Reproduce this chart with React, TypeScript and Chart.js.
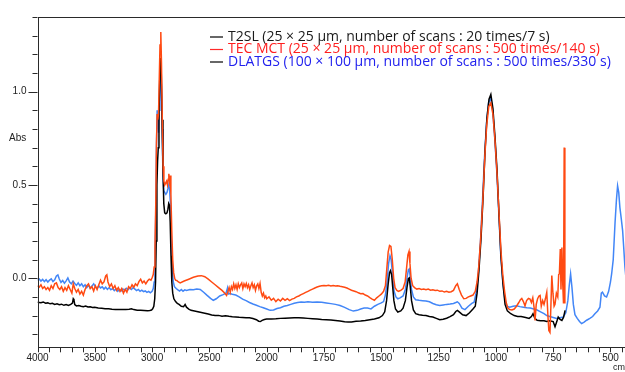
import React, { useEffect, useRef } from "react";
import { Chart, registerables } from "chart.js";
Chart.register(...registerables);

// [wavenumber (cm-1), absorbance]
const t2slPoints: number[][] = [
  [4000,-0.128],[3970,-0.131],[3950,-0.127],[3930,-0.134],[3910,-0.132],[3890,-0.137],[3870,-0.134],[3850,-0.140],[3830,-0.137],[3810,-0.142],[3790,-0.139],[3770,-0.145],[3750,-0.141],[3730,-0.146],[3710,-0.140],[3695,-0.133],[3688,-0.110],[3682,-0.116],[3675,-0.141],[3660,-0.148],[3640,-0.146],[3620,-0.150],[3600,-0.152],[3580,-0.149],[3560,-0.154],[3540,-0.153],[3520,-0.157],[3500,-0.156],[3470,-0.159],[3440,-0.161],[3410,-0.163],[3380,-0.164],[3350,-0.166],[3320,-0.167],[3290,-0.168],[3260,-0.168],[3230,-0.167],[3200,-0.166],[3180,-0.164],[3160,-0.168],[3130,-0.171],[3100,-0.172],[3070,-0.173],[3040,-0.174],[3020,-0.173],[3005,-0.170],[2995,-0.164],[2985,-0.150],[2977,-0.110],[2970,-0.020],[2964,0.200],[2958,0.500],[2952,0.630],[2946,0.700],[2940,0.860],[2933,1.080],[2926,1.180],[2920,1.100],[2913,0.850],[2905,0.580],[2898,0.400],[2890,0.350],[2880,0.345],[2870,0.350],[2862,0.370],[2855,0.400],[2848,0.390],[2842,0.300],[2835,0.120],[2828,-0.020],[2820,-0.080],[2810,-0.110],[2795,-0.125],[2780,-0.135],[2765,-0.140],[2745,-0.150],[2725,-0.152],[2712,-0.140],[2700,-0.155],[2680,-0.165],[2660,-0.172],[2630,-0.176],[2600,-0.180],[2570,-0.184],[2540,-0.188],[2510,-0.192],[2480,-0.197],[2450,-0.200],[2420,-0.199],[2390,-0.203],[2360,-0.201],[2330,-0.204],[2300,-0.206],[2270,-0.207],[2240,-0.209],[2210,-0.210],[2180,-0.211],[2150,-0.212],[2120,-0.216],[2090,-0.222],[2070,-0.230],[2055,-0.232],[2040,-0.226],[2020,-0.221],[2000,-0.219],[1980,-0.218],[1960,-0.217],[1940,-0.215],[1920,-0.214],[1900,-0.213],[1880,-0.212],[1860,-0.212],[1840,-0.213],[1820,-0.215],[1800,-0.217],[1780,-0.219],[1760,-0.221],[1740,-0.222],[1720,-0.224],[1700,-0.226],[1680,-0.229],[1660,-0.233],[1645,-0.235],[1630,-0.234],[1610,-0.231],[1590,-0.229],[1570,-0.226],[1550,-0.222],[1530,-0.218],[1510,-0.212],[1495,-0.200],[1485,-0.180],[1477,-0.120],[1470,-0.030],[1464,0.030],[1460,0.041],[1455,0.020],[1450,-0.050],[1445,-0.120],[1438,-0.165],[1428,-0.181],[1415,-0.175],[1405,-0.160],[1395,-0.120],[1388,-0.050],[1382,-0.002],[1378,0.002],[1374,-0.040],[1368,-0.120],[1360,-0.170],[1350,-0.190],[1335,-0.195],[1320,-0.198],[1305,-0.200],[1290,-0.205],[1275,-0.208],[1260,-0.215],[1245,-0.222],[1230,-0.220],[1215,-0.214],[1200,-0.206],[1185,-0.195],[1175,-0.178],[1168,-0.172],[1160,-0.180],[1145,-0.196],[1130,-0.200],[1115,-0.185],[1100,-0.165],[1090,-0.150],[1082,-0.080],[1074,0.040],[1065,0.210],[1056,0.430],[1047,0.690],[1039,0.860],[1030,0.960],[1022,0.985],[1013,0.910],[1004,0.760],[995,0.580],[986,0.330],[978,0.120],[969,-0.030],[960,-0.140],[950,-0.175],[935,-0.190],[920,-0.200],[905,-0.205],[890,-0.205],[870,-0.210],[855,-0.215],[845,-0.205],[838,-0.190],[830,-0.215],[820,-0.225],[805,-0.228],[790,-0.228],[778,-0.232],[765,-0.228],[750,-0.232],[742,-0.260],[735,-0.235],[728,-0.208],[720,-0.220],[712,-0.226],[705,-0.210],[698,-0.172]
];

const tecMctPoints: number[][] = [
  [4000,-0.040],[3985,-0.048],[3970,-0.035],[3955,-0.055],[3940,-0.045],[3925,-0.060],[3910,-0.050],[3895,-0.065],[3880,-0.040],[3865,-0.055],[3850,-0.030],[3835,-0.025],[3820,-0.050],[3805,-0.060],[3790,-0.045],[3775,-0.070],[3760,-0.050],[3745,-0.065],[3730,-0.040],[3715,-0.060],[3700,-0.080],[3688,-0.030],[3675,-0.055],[3660,-0.075],[3645,-0.060],[3630,-0.085],[3615,-0.070],[3600,-0.090],[3585,-0.060],[3570,-0.040],[3555,-0.030],[3540,-0.055],[3525,-0.045],[3510,-0.068],[3495,-0.040],[3480,-0.060],[3465,-0.035],[3450,-0.010],[3435,-0.030],[3420,-0.020],[3405,0.012],[3395,0.018],[3385,-0.020],[3370,-0.045],[3355,-0.030],[3340,-0.055],[3325,-0.040],[3310,-0.065],[3295,-0.050],[3280,-0.070],[3265,-0.055],[3250,-0.080],[3235,-0.060],[3220,-0.075],[3205,-0.045],[3190,-0.055],[3175,-0.035],[3160,-0.048],[3145,-0.030],[3130,-0.040],[3115,-0.018],[3100,-0.005],[3085,-0.025],[3070,-0.015],[3055,-0.030],[3040,-0.015],[3025,-0.005],[3010,-0.010],[2998,0.005],[2990,0.020],[2982,0.060],[2975,0.160],[2968,0.400],[2962,0.720],[2956,0.880],[2950,0.850],[2944,0.880],[2938,1.050],[2931,1.250],[2924,1.320],[2918,1.150],[2911,0.850],[2904,0.600],[2897,0.520],[2890,0.500],[2882,0.510],[2874,0.520],[2866,0.500],[2860,0.530],[2854,0.560],[2848,0.520],[2842,0.550],[2836,0.450],[2828,0.250],[2820,0.100],[2812,0.030],[2803,0.000],[2795,-0.010],[2785,-0.012],[2770,-0.020],[2755,-0.025],[2720,-0.015],[2680,-0.005],[2640,0.005],[2600,0.012],[2570,0.014],[2540,0.008],[2510,-0.005],[2480,-0.020],[2450,-0.035],[2420,-0.050],[2390,-0.065],[2365,-0.080],[2350,-0.092],[2338,-0.070],[2328,-0.050],[2318,-0.075],[2308,-0.045],[2298,-0.060],[2288,-0.030],[2278,-0.055],[2268,-0.035],[2258,-0.060],[2248,-0.030],[2238,-0.050],[2228,-0.035],[2218,-0.025],[2208,-0.055],[2198,-0.030],[2188,-0.045],[2178,-0.028],[2168,-0.050],[2158,-0.035],[2148,-0.060],[2138,-0.040],[2128,-0.025],[2118,-0.050],[2108,-0.035],[2098,-0.065],[2088,-0.040],[2078,-0.030],[2068,-0.055],[2058,-0.028],[2048,-0.075],[2038,-0.095],[2028,-0.080],[2018,-0.105],[2008,-0.095],[2000,-0.110],[1990,-0.100],[1980,-0.118],[1970,-0.108],[1960,-0.125],[1950,-0.112],[1940,-0.122],[1930,-0.108],[1920,-0.118],[1910,-0.110],[1900,-0.120],[1890,-0.112],[1880,-0.108],[1870,-0.100],[1860,-0.095],[1850,-0.088],[1840,-0.082],[1830,-0.076],[1820,-0.070],[1810,-0.064],[1800,-0.058],[1790,-0.052],[1780,-0.047],[1770,-0.043],[1760,-0.040],[1750,-0.039],[1740,-0.040],[1730,-0.038],[1720,-0.041],[1710,-0.039],[1700,-0.042],[1690,-0.040],[1680,-0.043],[1670,-0.045],[1660,-0.048],[1650,-0.052],[1640,-0.058],[1630,-0.064],[1620,-0.068],[1610,-0.072],[1600,-0.078],[1590,-0.083],[1580,-0.082],[1570,-0.090],[1560,-0.095],[1550,-0.104],[1540,-0.112],[1530,-0.118],[1520,-0.105],[1510,-0.095],[1500,-0.085],[1490,-0.070],[1482,-0.040],[1476,0.050],[1470,0.140],[1464,0.175],[1458,0.170],[1452,0.100],[1446,0.000],[1440,-0.050],[1432,-0.065],[1425,-0.070],[1415,-0.065],[1405,-0.055],[1396,-0.020],[1390,0.050],[1384,0.125],[1379,0.144],[1375,0.080],[1370,0.000],[1363,-0.040],[1355,-0.050],[1345,-0.058],[1335,-0.055],[1325,-0.060],[1315,-0.058],[1305,-0.062],[1295,-0.058],[1285,-0.064],[1275,-0.062],[1265,-0.066],[1255,-0.064],[1245,-0.070],[1235,-0.068],[1225,-0.074],[1215,-0.070],[1205,-0.075],[1195,-0.072],[1185,-0.065],[1175,-0.040],[1168,-0.030],[1160,-0.060],[1150,-0.090],[1140,-0.110],[1130,-0.108],[1120,-0.100],[1110,-0.095],[1100,-0.090],[1090,-0.070],[1082,-0.020],[1075,0.060],[1066,0.220],[1057,0.420],[1048,0.660],[1040,0.820],[1031,0.920],[1022,0.940],[1013,0.880],[1004,0.740],[995,0.560],[986,0.340],[978,0.150],[970,0.020],[962,-0.070],[955,-0.130],[948,-0.160],[940,-0.168],[930,-0.170],[920,-0.165],[910,-0.150],[900,-0.130],[893,-0.115],[887,-0.108],[880,-0.125],[873,-0.148],[866,-0.120],[858,-0.108],[851,-0.112],[845,-0.130],[839,-0.105],[833,-0.160],[829,-0.226],[824,-0.140],[818,-0.110],[812,-0.095],[807,-0.092],[802,-0.150],[796,-0.120],[790,-0.140],[784,-0.110],[778,-0.075],[773,-0.200],[769,-0.280],[764,-0.290],[760,-0.150],[756,0.014],[751,-0.080],[746,-0.150],[742,-0.140],[736,-0.080],[730,-0.100],[726,0.020],[723,0.023],[719,0.157],[716,-0.060],[712,0.165],[708,-0.040],[705,-0.135],[702,0.700],[699,-0.135]
];

const dlatgsPoints: number[][] = [
  [4000,-0.010],[3985,-0.004],[3970,-0.015],[3955,-0.006],[3940,-0.018],[3925,-0.008],[3910,-0.020],[3895,-0.010],[3880,-0.003],[3865,-0.018],[3850,-0.008],[3835,0.012],[3822,0.018],[3810,-0.004],[3795,-0.022],[3780,-0.012],[3765,-0.026],[3750,-0.014],[3735,0.002],[3720,-0.020],[3705,-0.030],[3690,-0.015],[3675,-0.028],[3660,-0.038],[3645,-0.025],[3630,-0.040],[3615,-0.030],[3600,-0.045],[3585,-0.035],[3570,-0.050],[3555,-0.038],[3540,-0.052],[3525,-0.042],[3510,-0.030],[3495,-0.045],[3480,-0.055],[3465,-0.040],[3450,-0.052],[3435,-0.046],[3420,-0.058],[3405,-0.048],[3390,-0.060],[3375,-0.050],[3360,-0.062],[3345,-0.055],[3330,-0.066],[3315,-0.057],[3300,-0.070],[3285,-0.060],[3270,-0.068],[3255,-0.058],[3240,-0.064],[3225,-0.054],[3210,-0.062],[3195,-0.052],[3180,-0.060],[3165,-0.050],[3150,-0.058],[3135,-0.066],[3120,-0.060],[3105,-0.070],[3090,-0.064],[3075,-0.072],[3060,-0.068],[3045,-0.076],[3030,-0.070],[3015,-0.078],[3000,-0.070],[2990,-0.055],[2982,-0.020],[2975,0.080],[2968,0.350],[2962,0.700],[2956,0.900],[2950,0.860],[2944,0.780],[2938,0.900],[2932,1.050],[2926,1.150],[2920,1.050],[2913,0.800],[2905,0.550],[2898,0.470],[2890,0.460],[2880,0.450],[2870,0.460],[2862,0.480],[2855,0.500],[2848,0.480],[2840,0.400],[2832,0.200],[2825,0.050],[2815,-0.020],[2805,-0.045],[2790,-0.055],[2775,-0.062],[2760,-0.068],[2745,-0.060],[2730,-0.070],[2715,-0.062],[2700,-0.065],[2670,-0.060],[2640,-0.062],[2610,-0.058],[2580,-0.060],[2550,-0.075],[2520,-0.092],[2490,-0.108],[2466,-0.118],[2440,-0.110],[2410,-0.095],[2380,-0.088],[2355,-0.080],[2342,-0.052],[2335,-0.085],[2320,-0.082],[2300,-0.086],[2270,-0.090],[2240,-0.100],[2210,-0.112],[2180,-0.120],[2150,-0.130],[2120,-0.138],[2090,-0.145],[2060,-0.152],[2030,-0.158],[2000,-0.165],[1985,-0.172],[1970,-0.170],[1955,-0.162],[1940,-0.158],[1925,-0.150],[1910,-0.146],[1895,-0.140],[1880,-0.134],[1865,-0.130],[1850,-0.127],[1835,-0.128],[1820,-0.126],[1800,-0.128],[1780,-0.127],[1760,-0.129],[1740,-0.132],[1720,-0.136],[1700,-0.140],[1680,-0.146],[1660,-0.156],[1640,-0.168],[1622,-0.176],[1605,-0.172],[1590,-0.165],[1575,-0.160],[1560,-0.160],[1545,-0.164],[1530,-0.150],[1515,-0.140],[1500,-0.132],[1490,-0.125],[1482,-0.090],[1475,-0.020],[1468,0.080],[1462,0.121],[1457,0.100],[1450,0.010],[1444,-0.070],[1436,-0.100],[1428,-0.110],[1418,-0.105],[1405,-0.095],[1395,-0.060],[1388,0.000],[1382,0.045],[1378,0.050],[1374,0.010],[1368,-0.060],[1360,-0.100],[1350,-0.115],[1335,-0.118],[1320,-0.120],[1305,-0.122],[1290,-0.126],[1275,-0.135],[1260,-0.142],[1245,-0.146],[1230,-0.143],[1215,-0.140],[1200,-0.138],[1185,-0.135],[1175,-0.130],[1168,-0.126],[1160,-0.135],[1148,-0.160],[1135,-0.168],[1120,-0.150],[1105,-0.135],[1095,-0.128],[1085,-0.070],[1077,0.020],[1068,0.180],[1059,0.400],[1050,0.640],[1041,0.830],[1032,0.940],[1023,0.965],[1014,0.900],[1005,0.750],[996,0.570],[987,0.340],[979,0.130],[970,-0.020],[961,-0.110],[952,-0.150],[940,-0.155],[925,-0.150],[910,-0.147],[895,-0.152],[880,-0.155],[865,-0.158],[850,-0.160],[835,-0.165],[820,-0.170],[805,-0.180],[790,-0.190],[778,-0.200],[765,-0.205],[750,-0.210],[735,-0.216],[720,-0.212],[706,-0.208],[695,-0.185],[686,-0.120],[680,-0.040],[674,0.023],[668,-0.050],[662,-0.140],[655,-0.195],[645,-0.215],[635,-0.232],[626,-0.243],[615,-0.235],[604,-0.225],[590,-0.215],[578,-0.205],[568,-0.190],[556,-0.175],[546,-0.155],[540,-0.080],[535,-0.075],[526,-0.095],[517,-0.100],[508,-0.070],[500,-0.020],[495,0.023],[488,0.100],[480,0.300],[474,0.420],[469,0.495],[464,0.460],[459,0.380],[453,0.320],[447,0.255],[442,0.160],[437,0.060],[430,-0.030],[420,-0.080]
];

const seriesNames = [
  "T2SL (25 × 25 µm, number of scans : 20 times/7 s)",
  "TEC MCT (25 × 25 µm, number of scans : 500 times/140 s)",
  "DLATGS (100 × 100 µm, number of scans : 500 times/330 s)",
];
const seriesLineColors = ["#000000", "#ff4a12", "#4286f7"];
const legendTextColors = ["#1a1a1a", "#ff1e1e", "#2222ee"];
const legendDashColors = ["#000000", "#ff2a2a", "#000000"];

const xLabelWavenumbers = [4000, 3500, 3000, 2500, 2000, 1750, 1500, 1250, 1000, 750, 500];
const yTickValues = [-0.3, -0.2, -0.1, 0.0, 0.1, 0.2, 0.3, 0.4, 0.5, 0.6, 0.7, 0.8, 0.9, 1.0, 1.1, 1.2, 1.3, 1.4];
const yLabelValues = [0.0, 0.5, 1.0];

// axis with 2x expansion below 2000 cm-1
function toAxis(wn: number) {
  return wn >= 2000 ? (4000 - wn) / 2 : 1000 + (2000 - wn);
}
function fromAxis(t: number) {
  return t <= 1000 ? 4000 - 2 * t : 2000 - (t - 1000);
}
const X_MIN = toAxis(4000);
const X_MAX = toAxis(400);
const xTickAxisValues: number[] = [];
for (let t = X_MIN; t <= X_MAX; t += 50) xTickAxisValues.push(t);

const isYLabel = (v: number) => yLabelValues.some((l) => Math.abs(l - v) < 1e-6);

const framePlugin = {
  id: "frame",
  afterDraw(chart: any) {
    const { ctx, chartArea: a, scales } = chart;
    const xs = scales.x;
    const ys = scales.y;
    ctx.save();
    ctx.strokeStyle = "#2a2a2a";
    ctx.lineWidth = 1;
    ctx.strokeRect(Math.round(a.left) + 0.5, Math.round(a.top) + 0.5, a.right - a.left, Math.round(a.bottom - a.top));
    ctx.beginPath();
    yTickValues.forEach((v) => {
      const y = Math.round(ys.getPixelForValue(v)) + 0.5;
      const len = isYLabel(v) ? 9 : 5;
      ctx.moveTo(a.left - len, y);
      ctx.lineTo(a.left, y);
    });
    xTickAxisValues.forEach((t) => {
      const x = Math.round(xs.getPixelForValue(t)) + 0.5;
      ctx.moveTo(x, a.bottom);
      ctx.lineTo(x, a.bottom + 5);
    });
    ctx.stroke();

    ctx.fillStyle = "#222";
    ctx.font = '10px "Liberation Sans", Arial, sans-serif';
    ctx.textBaseline = "middle";
    ctx.textAlign = "left";
    ctx.fillText("Abs", 9, 138);
    ctx.font = '9px "Liberation Sans", Arial, sans-serif';
    ctx.fillText("cm⁻¹", 613, 368);

    // legend
    ctx.font = '14px "Open Sans", "Noto Sans", sans-serif';
    const rows = [37, 49.5, 62];
    seriesNames.forEach((name, i) => {
      const y = rows[i];
      ctx.strokeStyle = legendDashColors[i];
      ctx.lineWidth = 1.2;
      ctx.beginPath();
      ctx.moveTo(210, y);
      ctx.lineTo(223, y);
      ctx.stroke();
      ctx.fillStyle = legendTextColors[i];
      ctx.fillText(name, 228, y);
    });
    ctx.restore();
  },
};

export default function App() {
  const canvasRef = useRef<HTMLCanvasElement | null>(null);

  useEffect(() => {
    if (!canvasRef.current) return;
    const pointSets = [t2slPoints, tecMctPoints, dlatgsPoints];
    const orders = [1, 0, 2];
    const chart = new Chart(canvasRef.current, {
      type: "line",
      data: {
        datasets: pointSets.map((pts, i) => ({
          label: seriesNames[i],
          data: pts.map(([wn, a]) => ({ x: toAxis(wn), y: a })),
          borderColor: seriesLineColors[i],
          borderWidth: 1.5,
          pointRadius: 0,
          tension: 0,
          fill: false,
          order: orders[i],
        })),
      },
      options: {
        responsive: false,
        animation: false,
        devicePixelRatio: 1,
        layout: { padding: { top: 15, right: 6.6, left: 0, bottom: 0 } },
        plugins: { legend: { display: false }, tooltip: { enabled: false } },
        events: [],
        scales: {
          x: {
            type: "linear",
            min: X_MIN,
            max: X_MAX,
            afterBuildTicks: (scale: any) => {
              scale.ticks = xTickAxisValues.map((v) => ({ value: v }));
            },
            afterFit: (scale: any) => {
              scale.height = 24.7;
            },
            grid: { display: false, drawTicks: false },
            border: { display: false },
            ticks: {
              autoSkip: false,
              maxRotation: 0,
              padding: 5,
              color: "#222",
              font: { family: '"Liberation Sans", Arial, sans-serif', size: 10 },
              callback: (value: any) => {
                const wn = Math.round(fromAxis(Number(value)));
                return xLabelWavenumbers.includes(wn) ? String(wn) : "";
              },
            },
          },
          y: {
            type: "linear",
            min: -0.37,
            max: 1.4,
            afterBuildTicks: (scale: any) => {
              scale.ticks = yTickValues.map((v) => ({ value: v }));
            },
            afterFit: (scale: any) => {
              scale.width = 37.5;
            },
            grid: { display: false, drawTicks: false },
            border: { display: false },
            ticks: {
              autoSkip: false,
              padding: 11,
              color: "#222",
              font: { family: '"Liberation Sans", Arial, sans-serif', size: 10 },
              callback: (value: any) => (isYLabel(Number(value)) ? Number(value).toFixed(1) : ""),
            },
          },
        },
      },
      plugins: [framePlugin],
    });
    return () => chart.destroy();
  }, []);

  return (
    <div
      style={{
        position: "fixed",
        left: 0,
        top: 0,
        width: 625,
        height: 372,
        overflow: "hidden",
        background: "#fff",
      }}
    >
      <canvas ref={canvasRef} width={640} height={372} style={{ width: 640, height: 372, display: "block" }} />
    </div>
  );
}
